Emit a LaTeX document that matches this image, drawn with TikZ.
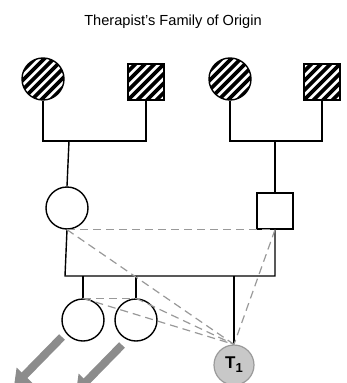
\documentclass[tikz,border=0pt]{standalone}
\usepackage{fontspec}
\setmainfont{Liberation Sans}
\usetikzlibrary{arrows.meta}
\definecolor{dashgray}{HTML}{999999}
\definecolor{arrgray}{HTML}{8C8C8C}
\definecolor{tfill}{HTML}{C8C8C8}
\definecolor{tdraw}{HTML}{9A9A9A}
\begin{document}
\begin{tikzpicture}[x=1pt,y=-1pt,
  kin/.style={draw=black, line width=1.4pt, inner sep=0pt},
  fem/.style={kin, circle, minimum size=42pt},
  mal/.style={kin, rectangle, minimum size=36pt},
  hatch/.style={path picture={\foreach \k in {-6,...,6}{\draw[line width=3.6pt] (path picture bounding box.center) ++({\k*9.5pt-30pt},-30pt) -- ++(60pt,60pt);}}},
  rel/.style={draw=black, line width=1.4pt},
  emo/.style={draw=dashgray, line width=1.2pt, dash pattern=on 8pt off 5pt},
  flow/.style={draw=arrgray, line width=8pt, -{Triangle[width=21pt,length=15pt]}},
  ther/.style={circle, draw=tdraw, fill=tfill, line width=1.2pt, minimum size=40pt, inner sep=0pt, font=\bfseries}
]
\useasboundingbox (0,0) rectangle (347,383);
\clip (0,0) rectangle (347,383);
\node (title) at (173,22) {\fontsize{14.6}{14.6}\selectfont Therapist’s Family of Origin};
% grandparents
\node[fem, hatch] (gm1) at (43,79) {};
\node[mal, hatch] (gf1) at (146,82) {};
\node[fem, hatch] (gm2) at (230,79) {};
\node[mal, hatch] (gf2) at (322,82) {};
% parents
\node[fem] (mo) at (67,208) {};
\node[mal] (fa) at (275,211) {};
% children
\node[fem] (c1) at (83,320) {};
\node[fem] (c2) at (136,320) {};
\node[ther] (t1) at (234,365) {\fontsize{17}{17}\selectfont T\raisebox{-4pt}{\fontsize{13}{13}\selectfont 1}};
% marriage lines
\coordinate (m1) at (69,141);
\coordinate (m2) at (275,141);
\draw[rel] (gm1.south) |- (m1) -| (gf1.south);
\draw[rel] (m1) -- (mo.north);
\draw[rel] (gm2.south) |- (m2) -| (gf2.south);
\draw[rel] (m2) -- (fa.north);
\coordinate (p) at (65,276);
\draw[rel] (mo.south) -- (p) -| (fa.south);
\coordinate (k1) at (c1.north |- p);
\coordinate (k2) at (c2.north |- p);
\coordinate (k3) at (t1.north |- p);
\draw[rel] (k1) -- (c1.north);
\draw[rel] (k2) -- (c2.north);
\draw[rel] (k3) -- (t1.north);
% emotional lines
\draw[emo] (mo.south) -- (fa.south);
\draw[emo] (c1.north) -- (c2.north);
\draw[emo] (mo.south) -- (t1.north);
\draw[emo] (fa.south) -- (t1.north);
\draw[emo] (c1.north) -- (t1.north);
\draw[emo] (c2.north) -- (t1.north);
% outgoing arrows
\coordinate (a1s) at (62,337);
\coordinate (a1e) at (14,386);
\coordinate (a2s) at (122,345);
\coordinate (a2e) at (76,392);
\draw[flow] (a1s) -- (a1e);
\draw[flow] (a2s) -- (a2e);
\end{tikzpicture}
\end{document}
